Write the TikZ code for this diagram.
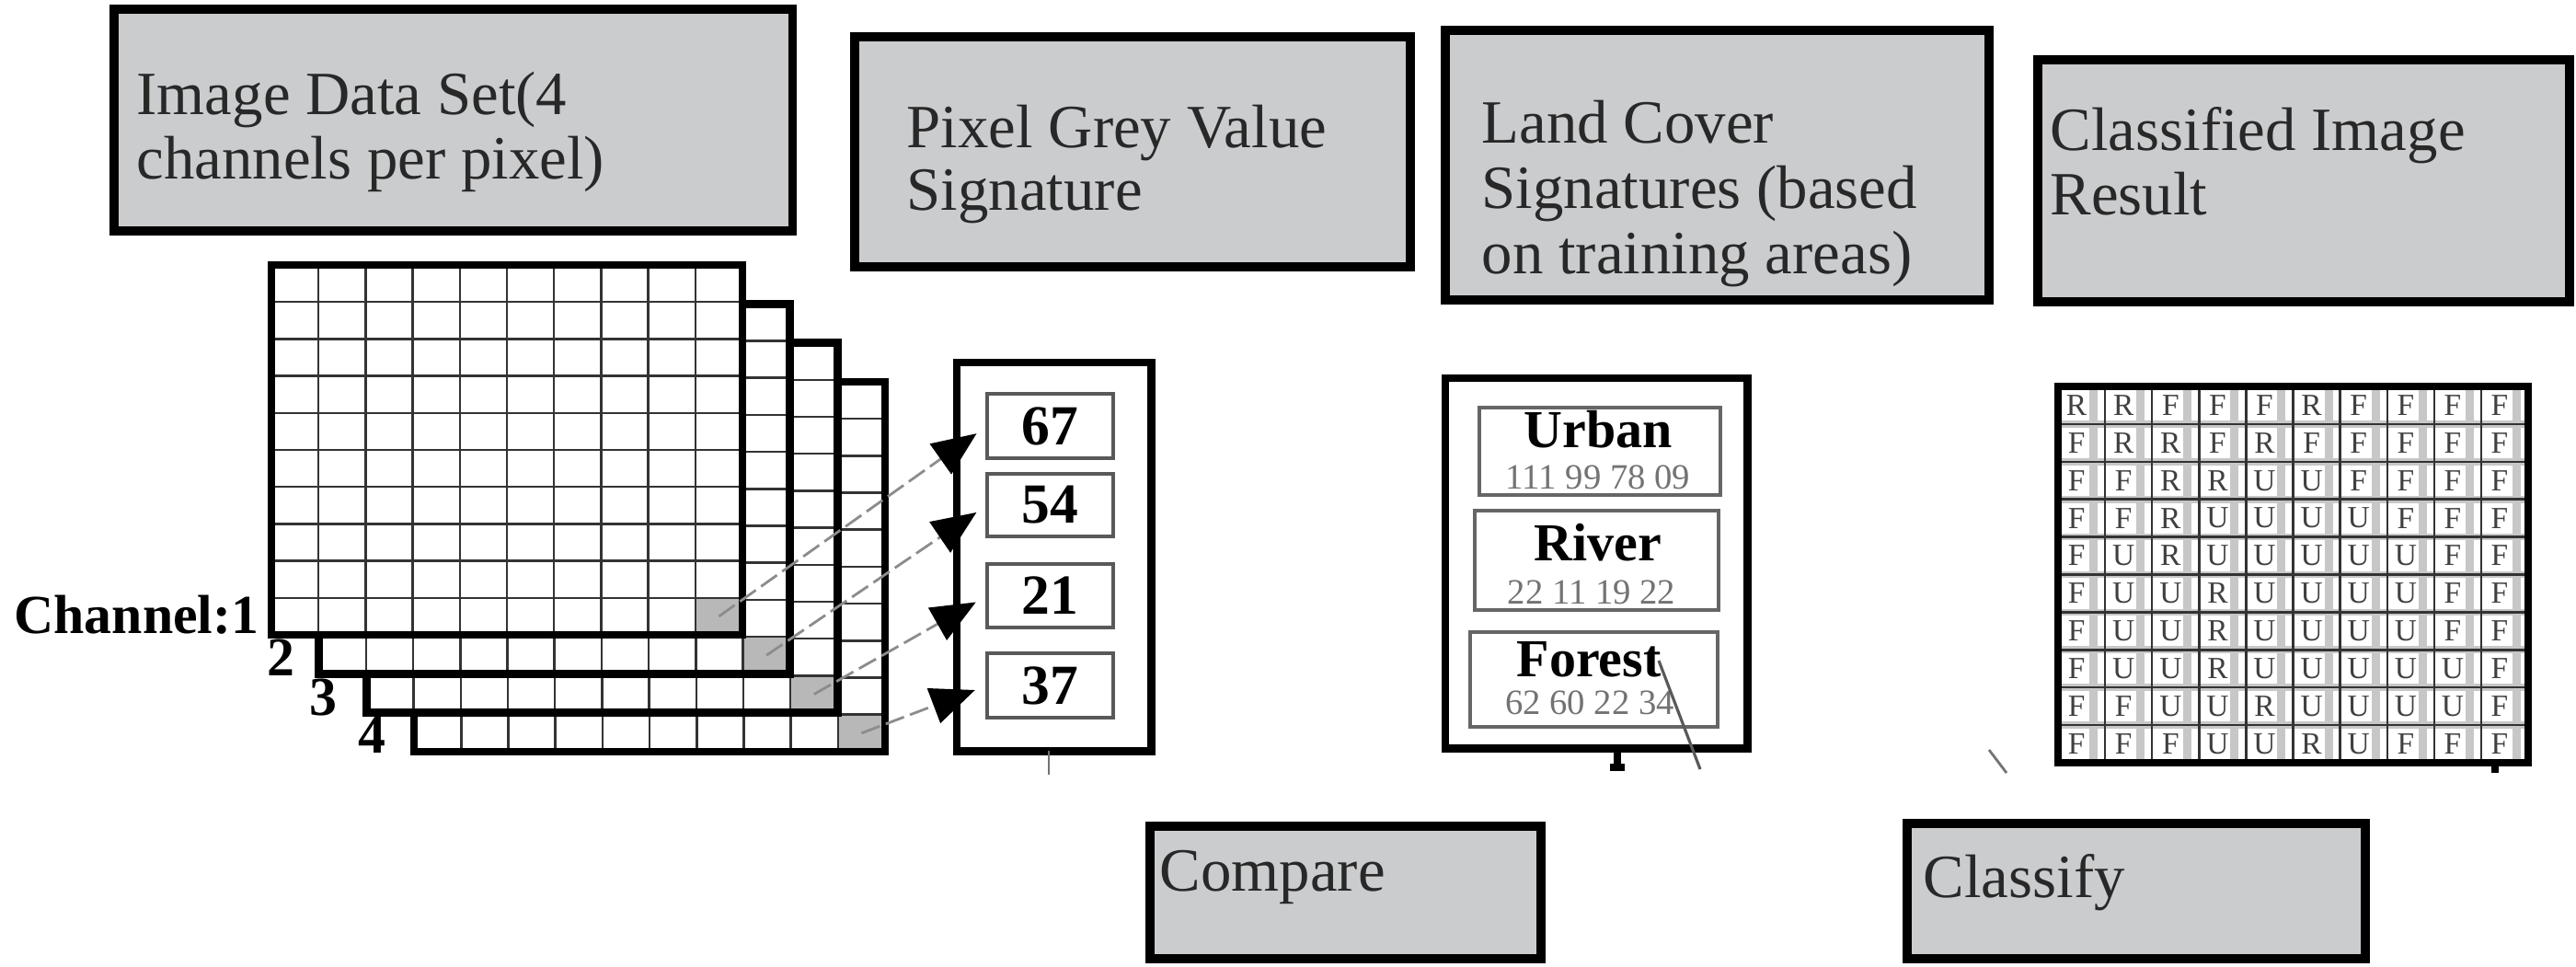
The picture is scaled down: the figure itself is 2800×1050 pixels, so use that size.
\documentclass[tikz,border=0pt]{standalone}
\usepackage{fontspec}
\setmainfont{Liberation Serif}
\usetikzlibrary{arrows.meta}
\definecolor{boxgrey}{RGB}{203,204,206}
\definecolor{inkgrey}{RGB}{40,40,40}
\begin{document}
\begin{tikzpicture}[x=0.01cm,y=-0.01cm,
  hbox/.style={draw=black,line width=2.8pt,fill=boxgrey,anchor=north west,inner sep=0pt,outer sep=0pt},
  htext/.style={anchor=base west,inner sep=0pt,text=inkgrey,font=\fontsize{19}{20}\selectfont},
  chlabel/.style={inner sep=0pt,font=\bfseries\fontsize{17}{18}\selectfont},
  layerborder/.style={draw=black,line width=2.4pt},
  gridline/.style={draw=black!80,line width=0.7pt},
  cellgrey/.style={fill=black!28},
  outerbox/.style={draw=black,line width=2.5pt,fill=white,anchor=north west,inner sep=0pt,outer sep=0pt},
  valbox/.style={draw=black!65,line width=1.3pt,fill=white,inner sep=0pt,outer sep=0pt,font=\bfseries\fontsize{17.5}{18}\selectfont},
  lcbox/.style={draw=black!60,line width=1.3pt,fill=white,inner sep=0pt,outer sep=0pt},
  lcname/.style={anchor=base,inner sep=0pt,font=\bfseries\fontsize{16.5}{17}\selectfont},
  lcnum/.style={anchor=base,inner sep=0pt,text=black!55,font=\fontsize{11}{12}\selectfont},
  sigarrow/.style={draw=black!45,line width=0.8pt,dash pattern=on 6pt off 2pt,shorten >=4pt,-{Triangle[length=4.8mm,width=4mm,color=black]}},
  frag/.style={draw=black!55,line width=0.8pt},
  cls/.style={inner sep=0pt,text=black!75,font=\fontsize{9.5}{10}\selectfont}
]
\useasboundingbox (0,0) rectangle (2800,1050);

% ---------- header boxes ----------
\node[hbox,minimum width=7.37cm,minimum height=2.41cm] (bImage) at (124,10) {};
\node[htext] (tImageA) at (148,124) {Image Data Set(4};
\node[htext] (tImageB) at (148,194) {channels per pixel)};

\node[hbox,minimum width=6.04cm,minimum height=2.50cm] (bPixel) at (929,40) {};
\node[htext] (tPixelA) at (985,160) {Pixel Grey Value};
\node[htext] (tPixelB) at (985,228) {Signature};

\node[hbox,minimum width=5.91cm,minimum height=2.93cm] (bLand) at (1571,33) {};
\node[htext] (tLandA) at (1610,155) {Land Cover};
\node[htext] (tLandB) at (1610,226) {Signatures (based};
\node[htext] (tLandC) at (1610,297) {on training areas)};

\node[hbox,minimum width=5.78cm,minimum height=2.63cm] (bClassImg) at (2215,65) {};
\node[htext] (tClassA) at (2228,163) {Classified Image};
\node[htext] (tClassB) at (2228,233) {Result};

\node[hbox,minimum width=4.25cm,minimum height=1.44cm] (bCompare) at (1250,898) {};
\node[htext] (tCompare) at (1260,968) {Compare};

\node[hbox,minimum width=4.98cm,minimum height=1.47cm] (bClassify) at (2073,895) {};
\node[htext] (tClassify) at (2090,975) {Classify};

% ---------- image channels (4 layers) ----------
\foreach \k in {3,2,1,0} {
  \pgfmathsetmacro\lx{295+51.7*\k}
  \pgfmathsetmacro\ly{288+42.3*\k}
  \fill[white] (\lx,\ly) rectangle ++(512,402);
  \fill[cellgrey] (\lx+460.8,\ly+361.8) rectangle (\lx+512,\ly+402);
  \foreach \i in {1,...,9} {
    \draw[gridline] (\lx+\i*51.2,\ly) -- ++(0,402);
    \draw[gridline] (\lx,\ly+\i*40.2) -- ++(512,0);
  }
  \draw[layerborder] (\lx,\ly) rectangle ++(512,402);
}
\coordinate (cell1) at (781.4,669.9);
\coordinate (cell2) at (833.1,712.2);
\coordinate (cell3) at (884.8,754.5);
\coordinate (cell4) at (936.5,796.8);

\node[chlabel,anchor=base east] (ch1) at (282,688) {Channel:1};
\node[chlabel,anchor=base west] (ch2) at (290,734) {2};
\node[chlabel,anchor=base west] (ch3) at (336,777) {3};
\node[chlabel,anchor=base west] (ch4) at (389,818) {4};

% ---------- pixel grey value signature ----------
\node[outerbox,minimum width=2.11cm,minimum height=4.22cm] (pix) at (1040,394) {};
\node[valbox,minimum width=1.37cm,minimum height=0.70cm] (v67) at (1141.5,463) {67};
\node[valbox,minimum width=1.37cm,minimum height=0.68cm] (v54) at (1141.5,549) {54};
\node[valbox,minimum width=1.37cm,minimum height=0.69cm] (v21) at (1141.5,647.5) {21};
\node[valbox,minimum width=1.37cm,minimum height=0.70cm] (v37) at (1141.5,745) {37};

\draw[sigarrow] (cell1) -- (v67.west);
\draw[sigarrow] (cell2) -- (v54.west);
\draw[sigarrow] (cell3) -- (v21.west);
\draw[sigarrow] (cell4) -- (v37.west);

% ---------- land cover signatures ----------
\node[outerbox,minimum width=3.28cm,minimum height=4.02cm] (land) at (1571,411) {};
\node[lcbox,minimum width=2.62cm,minimum height=0.95cm] (urban) at (1739,490.5) {};
\node[lcname] (urbanT) at (1737,486) {Urban};
\node[lcnum] (urbanN) at (1737,531) {111 99 78 09};
\node[lcbox,minimum width=2.65cm,minimum height=1.08cm] (river) at (1735.5,609) {};
\node[lcname] (riverT) at (1737,609) {River};
\node[lcnum] (riverN) at (1730,656) {22 11 19 22};
\node[lcbox,minimum width=2.69cm,minimum height=1.03cm] (forest) at (1732.5,738.5) {};
\node[lcname] (forestT) at (1727,735) {Forest};
\node[lcnum] (forestN) at (1728,776) {62 60 22 34};

% ---------- classified image ----------
\fill[white] (2237,420) rectangle (2748,829);
\foreach \i in {0,...,9} {
  \fill[black!22] (2237+\i*51.1+34,420) rectangle ++(9,409);
}
\foreach \i in {1,...,9} {
  \draw[draw=black!22,line width=2.2pt] (2237,420+\i*40.9) -- ++(511,0);
}
\foreach \i in {1,...,9} {
  \draw[gridline] (2237+\i*51.1,420) -- ++(0,409);
  \draw[gridline] (2237,420+\i*40.9) -- ++(511,0);
}
\foreach \row [count=\r] in {
  {R,R,F,F,F,R,F,F,F,F},
  {F,R,R,F,R,F,F,F,F,F},
  {F,F,R,R,U,U,F,F,F,F},
  {F,F,R,U,U,U,U,F,F,F},
  {F,U,R,U,U,U,U,U,F,F},
  {F,U,U,R,U,U,U,U,F,F},
  {F,U,U,R,U,U,U,U,F,F},
  {F,U,U,R,U,U,U,U,U,F},
  {F,F,U,U,R,U,U,U,U,F},
  {F,F,F,U,U,R,U,F,F,F}} {
  \foreach \c [count=\cc] in \row {
    \node[cls] (c-\r-\cc) at (2237+51.1*\cc-31,420+40.9*\r-20.5) {\c};
  }
}
\draw[layerborder] (2237,420) rectangle (2748,829);

% ---------- connector fragments ----------
\coordinate (fragA1) at (1140,816);
\coordinate (fragA2) at (1140,842);
\draw[frag] (fragA1) -- (fragA2);
\coordinate (landFoot) at (1758,813);
\coordinate (landTip) at (1758,836);
\draw[draw=black,line width=2.2pt] (landFoot) -- (landTip);
\fill[black] (1750,830) rectangle (1766,838);
\coordinate (forestLineA) at (1803,718);
\coordinate (forestLineB) at (1848,836);
\draw[draw=black!65,line width=0.9pt] (forestLineA) -- (forestLineB);
\coordinate (fragB1) at (2162,815);
\coordinate (fragB2) at (2181,840);
\draw[frag] (fragB1) -- (fragB2);
\coordinate (fragC1) at (2712,829);
\coordinate (fragC2) at (2712,840);
\draw[draw=black,line width=2.5pt] (fragC1) -- (fragC2);
\end{tikzpicture}
\end{document}
